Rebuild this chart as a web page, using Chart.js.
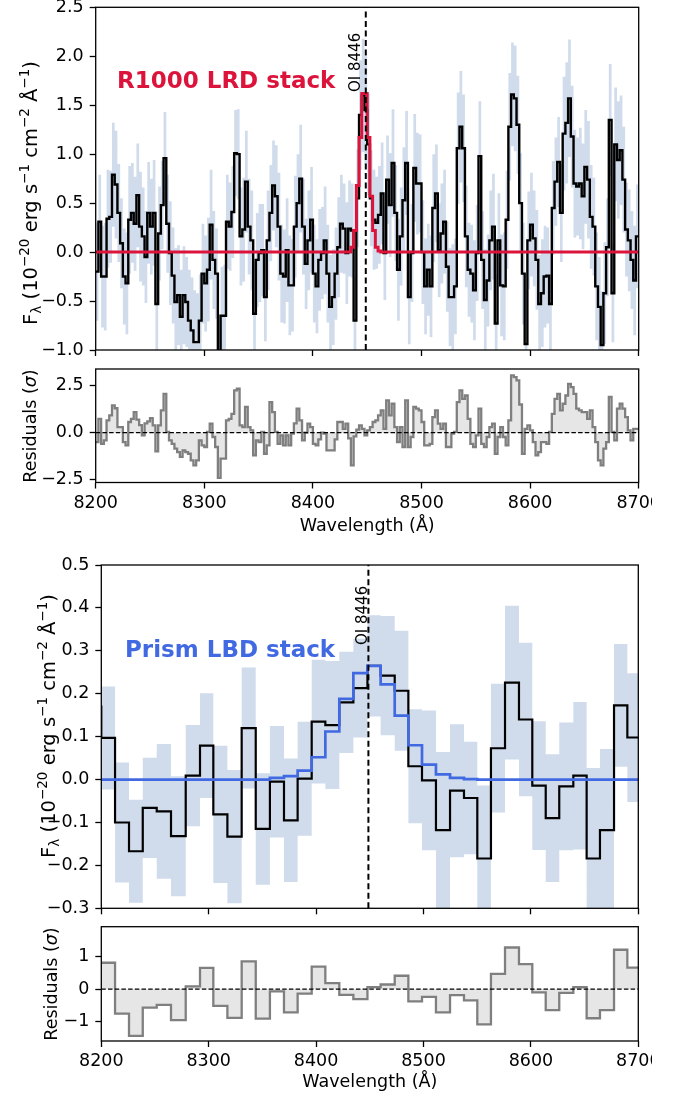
<!DOCTYPE html>
<html>
<head>
<meta charset="utf-8">
<script src="https://cdn.jsdelivr.net/npm/chart.js@4.4.1/dist/chart.umd.min.js"></script>
<style>
  body { margin: 0; background: #fff; }
  #wrap { position: relative; width: 686px; height: 1098px; overflow: hidden; background: #fff; }
  canvas { position: absolute; left: 0; }
  .ylab {
    position: absolute; white-space: nowrap;
    font-family: 'DejaVu Sans', sans-serif; font-size: 17.5px; color: #000;
    transform: translate(-50%, -50%) rotate(-90deg);
  }
  .ylab.big { font-size: 19.5px; }
  .ylab sup { font-size: 13.5px; vertical-align: 8px; line-height: 0; }
  .ylab sub { font-size: 13.5px; vertical-align: -4px; line-height: 0; }
</style>
</head>
<body>
<div id="wrap">
  <canvas id="cvA" width="686" height="360" style="top:0"></canvas>
  <canvas id="cvB" width="652" height="180" style="top:360px"></canvas>
  <canvas id="cvC" width="686" height="363" style="top:555px"></canvas>
  <canvas id="cvD" width="652" height="180" style="top:918px"></canvas>
  <div class="ylab big" style="left:30px;top:193px">F<sub>λ</sub> (10<sup>−20</sup> erg s<sup>−1</sup> cm<sup>−2</sup> Å<sup>−1</sup>)</div>
  <div class="ylab" style="left:30px;top:426px">Residuals (<i>σ</i>)</div>
  <div class="ylab big" style="left:48px;top:726px">F<sub>λ</sub> (10<sup>−20</sup> erg s<sup>−1</sup> cm<sup>−2</sup> Å<sup>−1</sup>)</div>
  <div class="ylab" style="left:51px;top:984px">Residuals (<i>σ</i>)</div>
</div>
<script>
// ---- R1000 LRD stack (2.5 A bins from 8200 A) ----
const r1000Start = 8200;
const r1000Bin = 2.5;
const r1000Flux = [
  -0.20, 0.31, -0.25, -0.25, 0.34, 0.36, 0.79, 0.69, 0.40, 0.09,
  -0.25, -0.32, 0.33, 0.40, 0.29, 0.58, 0.26, 0.16, -0.05, 0.40,
  0.26, 0.40, -0.53, 0.19, 0.48, 0.96, 0.29, -0.01, -0.24, -0.51,
  -0.44, -0.66, -0.44, -0.51, -0.70, -0.80, -0.92, -0.92, -0.70, -0.22,
  -0.32, -0.18, 0.28, -0.08, -0.22, -1.10, -0.65, -0.65, 0.31, 0.26,
  0.41, 1.01, 1.00, 0.16, 0.23, 0.72, 0.26, 0.12, -0.63, -0.08,
  -0.01, 0.02, -0.46, 0.12, 0.40, 0.68, 0.57, 0.26, -0.22, -0.25,
  0.02, -0.34, -0.34, 0.26, 0.50, 0.75, 0.26, -0.12, 0.12, 0.33,
  -0.22, -0.35, -0.08, -0.01, 0.12, -0.22, -0.56, -0.46, -0.22, 0.05,
  0.29, 0.24, -0.01, 0.24, 0.22, -0.70, 0.55, 1.40, 1.60, 1.45,
  1.10, 0.55, 0.33, 0.30, 0.38, 0.60, -0.01, 0.74, 0.48, 0.91,
  0.40, -0.18, 0.16, 0.53, 0.91, -0.46, -0.01, 0.86, 0.70, 0.70,
  0.00, -0.35, -0.18, -0.35, 0.45, 0.60, 0.02, 0.19, 0.31, -0.15,
  -0.46, -0.46, -0.35, 1.06, 1.28, 1.06, 0.16, -0.18, -0.22, -0.39,
  -0.01, 0.98, -0.08, -0.49, -0.29, 0.12, 0.26, -0.73, 0.12, -0.34,
  -0.35, 0.33, 1.28, 1.61, 1.57, 1.30, 0.50, -0.22, -0.94, 0.12,
  0.28, 0.14, -0.08, -0.53, -0.42, -0.25, -0.24, -0.53, 0.45, 0.72,
  0.92, 0.40, 1.21, 1.32, 1.57, 1.18, 0.70, 0.67, 0.70, 0.57,
  0.87, 0.74, 0.36, 0.26, -0.35, -0.56, -0.95, -0.42, 0.05, 1.35,
  -0.42, 1.10, 0.94, 1.04, 0.74, 0.23, 0.12, -0.08, -0.29, 0.16
];
const r1000Err = [
  0.50, 0.48, 0.52, 0.55, 0.50, 0.47, 0.53, 0.55, 0.50, 0.46,
  0.49, 0.52, 0.55, 0.51, 0.48, 0.53, 0.56, 0.50, 0.47, 0.52,
  0.49, 0.54, 0.52, 0.48, 0.45, 0.47, 0.50, 0.53, 0.49, 0.55,
  0.51, 0.48, 0.50, 0.46, 0.52, 0.54, 0.53, 0.50, 0.47, 0.51,
  0.49, 0.53, 0.56, 0.50, 0.46, 0.46, 0.50, 0.52, 0.48, 0.45,
  0.47, 0.44, 0.46, 0.50, 0.53, 0.52, 0.49, 0.51, 0.53, 0.48,
  0.50, 0.47, 0.45, 0.51, 0.49, 0.46, 0.52, 0.55, 0.50, 0.48,
  0.53, 0.51, 0.47, 0.52, 0.50, 0.55, 0.49, 0.46, 0.51, 0.54,
  0.50, 0.48, 0.52, 0.47, 0.55, 0.50, 0.53, 0.49, 0.47, 0.51,
  0.50, 0.46, 0.52, 0.49, 0.48, 0.45, 0.50, 0.56, 0.58, 0.55,
  0.52, 0.49, 0.51, 0.47, 0.50, 0.52, 0.48, 0.45, 0.53, 0.55,
  0.49, 0.52, 0.50, 0.54, 0.53, 0.48, 0.50, 0.55, 0.52, 0.50,
  0.53, 0.49, 0.47, 0.52, 0.55, 0.50, 0.48, 0.51, 0.53, 0.46,
  0.50, 0.54, 0.49, 0.57, 0.57, 0.55, 0.52, 0.48, 0.50, 0.51,
  0.49, 0.56, 0.50, 0.52, 0.47, 0.51, 0.54, 0.50, 0.48, 0.52,
  0.55, 0.50, 0.55, 0.53, 0.54, 0.50, 0.51, 0.52, 0.56, 0.50,
  0.53, 0.49, 0.51, 0.50, 0.55, 0.52, 0.49, 0.53, 0.48, 0.45,
  0.46, 0.50, 0.58, 0.62, 0.60, 0.52, 0.55, 0.50, 0.57, 0.54,
  0.58, 0.60, 0.53, 0.50, 0.55, 0.51, 0.55, 0.52, 0.50, 0.57,
  0.50, 0.58, 0.60, 0.56, 0.54, 0.48, 0.52, 0.50, 0.56, 0.53
];
const r1000Resid = [
  -0.50, 0.74, -0.59, -0.41, 0.66, 0.92, 1.45, 1.30, 0.30, 0.30,
  -0.50, -0.67, 0.57, 0.74, 1.10, 0.70, 0.40, -0.14, 0.50, 0.60,
  0.78, 0.39, -0.99, 0.39, 1.19, 2.07, 0.04, -0.41, -0.59, -0.85,
  -1.03, -1.29, -0.94, -1.03, -1.12, -1.47, -1.74, -1.47, -0.41, -0.67,
  -0.76, 0.04, 0.48, -0.23, -0.76, -2.40, -1.38, -1.38, 0.66, 0.74,
  1.00, 2.25, 2.34, 0.39, 0.30, 1.37, 0.30, 0.12, -1.20, -0.41,
  -0.50, 0.04, -1.12, -0.67, 1.63, 1.10, 0.04, -0.59, -0.14, -0.67,
  -0.14, -0.67, -0.05, 0.50, 1.28, 0.66, -0.41, 0.00, 0.48, 0.30,
  -0.59, -0.67, -0.35, 0.00, -0.05, -0.94, -0.94, -0.94, -0.35, 0.57,
  0.57, 0.20, 0.48, -0.30, -1.74, -0.20, 0.16, 0.39, 0.20, -0.14,
  0.12, 0.30, 0.57, 0.66, 0.92, 1.19, 0.20, 1.72, 0.92, 1.54,
  0.30, -0.50, 0.30, -0.76, 1.72, -0.76, -0.23, 1.37, 1.28, 1.19,
  0.57, -0.67, -0.67, -0.59, 0.83, 1.19, 0.48, 0.20, 0.48, -0.76,
  -0.76, -0.05, 0.04, 1.63, 2.25, 1.80, 1.98, 0.74, -0.59, -0.76,
  -0.14, 1.28, -0.59, -0.76, -0.23, 0.30, 0.48, -1.12, -0.23, 0.30,
  -0.23, -0.67, 0.66, 3.05, 2.96, 2.78, 1.50, -1.12, 0.20, 0.39,
  0.12, -0.50, -1.20, -1.03, -0.50, -0.50, -0.59, 0.04, 1.00, 1.80,
  2.07, 1.19, 1.54, 1.98, 2.60, 2.43, 2.07, 1.28, 1.19, 1.10,
  1.10, 0.74, 1.19, 0.30, -0.50, -1.47, -1.74, -0.85, -0.50, 1.90,
  0.04, -0.41, 1.28, 1.54, 1.28, 0.83, 0.12, -0.41, 0.20, 0.20
];
// gaussian model: zero continuum except these bins
const r1000ModelFirstBin = 92;
const r1000Model = [0, 0, 0.05, 0.22, 0.68, 1.17, 1.62, 1.62, 1.17, 0.57, 0.22, 0.05, 0.01, 0];

// ---- Prism LBD stack (bin edges) ----
const prismEdges = [
  8187.2, 8200.0, 8212.8, 8225.8, 8238.6, 8251.6, 8264.9, 8278.6, 8291.9, 8304.3,
  8317.4, 8330.7, 8343.8, 8357.0, 8370.1, 8382.8, 8395.9, 8408.6, 8421.6, 8434.7,
  8447.8, 8460.1, 8473.2, 8485.9, 8498.6, 8511.6, 8524.7, 8537.7, 8550.1, 8562.8,
  8575.9, 8588.9, 8601.3, 8613.8, 8626.4, 8639.5, 8651.9, 8664.3, 8677.4, 8689.8, 8702.2
];
const prismFlux = [
  0.170, 0.097, -0.100, -0.167, -0.066, -0.074, -0.132, 0.009, 0.079, -0.081,
  -0.133, 0.120, -0.115, -0.005, -0.095, 0.002, 0.135, 0.127, 0.180, 0.213,
  0.265, 0.242, 0.207, 0.031, -0.002, -0.118, -0.026, -0.043, -0.184, 0.073,
  0.226, 0.140, -0.014, -0.090, -0.016, 0.009, -0.184, -0.118, 0.173, 0.098
];
const prismErr = [
  0.120, 0.120, 0.140, 0.120, 0.117, 0.157, 0.140, 0.118, 0.122, 0.160,
  0.155, 0.141, 0.130, 0.130, 0.144, 0.133, 0.144, 0.149, 0.118, 0.115,
  0.118, 0.139, 0.140, 0.133, 0.163, 0.182, 0.155, 0.131, 0.170, 0.150,
  0.179, 0.179, 0.150, 0.149, 0.149, 0.172, 0.211, 0.189, 0.143, 0.150
];
const prismModel = [
  0, 0, 0, 0, 0, 0, 0, 0, 0, 0,
  0, 0, 0, 0.004, 0.008, 0.021, 0.052, 0.112, 0.188, 0.248,
  0.265, 0.222, 0.149, 0.080, 0.035, 0.012, 0.004, 0.001, 0, 0,
  0, 0, 0, 0, 0, 0, 0, 0, 0, 0
];
// residuals start at the 8200 edge
const prismResid = [
  0.81, -0.76, -1.44, -0.57, -0.49, -0.96, 0.08, 0.65, -0.52, -0.89,
  0.85, -0.91, -0.07, -0.72, -0.14, 0.69, 0.18, -0.18, -0.31, 0.06,
  0.14, 0.41, -0.38, -0.24, -0.72, -0.19, -0.35, -1.09, 0.47, 1.28,
  0.77, -0.10, -0.65, -0.12, 0.06, -0.90, -0.65, 1.21, 0.66
];

// ---- axes ----
const waveTicks = [8200, 8300, 8400, 8500, 8600, 8700];
const r1000FluxTicks = [-1.0, -0.5, 0.0, 0.5, 1.0, 1.5, 2.0, 2.5];
const r1000ResidTicks = [-2.5, 0.0, 2.5];
const prismFluxTicks = [-0.3, -0.2, -0.1, 0.0, 0.1, 0.2, 0.3, 0.4, 0.5];
const prismResidTicks = [-1, 0, 1];
const r1000FluxRange = [-1.0, 2.5];
const r1000ResidRange = [-2.65, 3.39];
const prismFluxRange = [-0.3, 0.5];
const prismResidRange = [-1.6, 1.92];
const oiWave = 8448.7;

const FONT = "'DejaVu Sans', sans-serif";
const tickFont = { family: FONT, size: 17.5 };
const minus = s => s.replace('-', '\u2212');

function stepPoints(edges, vals) {
  const pts = vals.map((v, i) => ({ x: edges[i], y: v }));
  pts.push({ x: edges[vals.length], y: vals[vals.length - 1] });
  return pts;
}

const r1000Edges = [];
for (let i = 0; i <= r1000Flux.length; i++) r1000Edges.push(r1000Start + i * r1000Bin);
const r1000ModelFull = r1000Flux.map((_, i) => {
  const k = i - r1000ModelFirstBin;
  return k >= 0 && k < r1000Model.length ? r1000Model[k] : 0;
});

function stepLine(data, color, width, order, extra) {
  return Object.assign({
    data, borderColor: color, borderWidth: width, pointRadius: 0,
    stepped: 'before', fill: false, order, tension: 0
  }, extra || {});
}

function xAxis(showLabels, height, withTitle, titlePad) {
  return {
    type: 'linear', min: 8200, max: 8700,
    afterBuildTicks: s => { s.ticks = waveTicks.map(v => ({ value: v })); },
    afterFit: s => { s.height = height; s.paddingLeft = 0; s.paddingRight = 0; },
    ticks: { display: showLabels, padding: 4, color: '#000', font: tickFont,
             autoSkip: false, maxRotation: 0, callback: v => String(v) },
    grid: { display: true, drawOnChartArea: false, drawTicks: true,
            tickLength: 6, tickWidth: 1.3, tickColor: '#000' },
    border: { display: false },
    title: withTitle
      ? { display: true, text: 'Wavelength (Å)', color: '#000', font: tickFont,
          padding: { top: 0, bottom: titlePad } }
      : { display: false }
  };
}

function yAxis(range, ticks, width, fmt) {
  return {
    type: 'linear', min: range[0], max: range[1],
    afterBuildTicks: s => { s.ticks = ticks.map(v => ({ value: v })); },
    afterFit: s => { s.width = width; s.paddingTop = 0; s.paddingBottom = 0; },
    ticks: { padding: 6, color: '#000', font: tickFont, callback: fmt },
    grid: { display: true, drawOnChartArea: false, drawTicks: true,
            tickLength: 6, tickWidth: 1.3, tickColor: '#000' },
    border: { display: false }
  };
}

// frame around the plot plus free text inside it
const framePlugin = {
  id: 'frame',
  afterDraw(chart, args, opts) {
    const { ctx, chartArea: a } = chart;
    ctx.save();
    (opts.texts || []).forEach(t => {
      ctx.save();
      ctx.fillStyle = t.color;
      ctx.font = t.font;
      ctx.textAlign = 'left';
      ctx.textBaseline = 'alphabetic';
      const x = t.wave !== undefined ? chart.scales.x.getPixelForValue(t.wave) + t.dx : a.left + t.dx;
      ctx.translate(x, a.top + t.dy);
      if (t.rotate) ctx.rotate(-Math.PI / 2);
      ctx.fillText(t.text, 0, 0);
      ctx.restore();
    });
    ctx.strokeStyle = '#000';
    ctx.lineWidth = 1.3;
    ctx.strokeRect(a.left, a.top, a.right - a.left, a.bottom - a.top);
    ctx.restore();
  }
};

function makeChart(id, datasets, scales, pad, texts) {
  return new Chart(document.getElementById(id), {
    type: 'line',
    data: { datasets },
    options: {
      responsive: false, animation: false, devicePixelRatio: 1,
      layout: { autoPadding: false, padding: pad },
      plugins: { legend: { display: false }, tooltip: { enabled: false }, frame: { texts: texts || [] } },
      scales
    },
    plugins: [framePlugin]
  });
}

const bandColor = 'rgba(176,196,222,0.6)';
const residLine = '#7f7f7f';
const residFill = 'rgba(200,200,200,0.45)';

// Panel A: R1000 spectrum
makeChart('cvA', [
  stepLine(stepPoints(r1000Edges, r1000Flux.map((v, i) => v + r1000Err[i])), 'rgba(0,0,0,0)', 0, 11),
  stepLine(stepPoints(r1000Edges, r1000Flux.map((v, i) => v - r1000Err[i])), 'rgba(0,0,0,0)', 0, 10,
           { fill: '-1', backgroundColor: bandColor }),
  stepLine(stepPoints(r1000Edges, r1000Flux), '#000', 2.4, 3),
  stepLine(stepPoints(r1000Edges, r1000ModelFull), '#dc143c', 3, 2),
  { data: [{ x: oiWave, y: r1000FluxRange[0] }, { x: oiWave, y: r1000FluxRange[1] }],
    borderColor: '#000', borderWidth: 2, borderDash: [6, 3.5], pointRadius: 0, fill: false, order: 1 }
], {
  x: xAxis(false, 10, false, 0),
  y: yAxis(r1000FluxRange, r1000FluxTicks, 95.7, v => minus(v.toFixed(1)))
}, { left: 0, top: 7.3, right: 47.3, bottom: 0 }, [
  { text: 'R1000 LRD stack', color: '#dc143c', font: "bold 23px " + FONT, dx: 21.3, dy: 80.7 },
  { text: 'OI 8446', color: '#000', font: "15px " + FONT, wave: oiWave, dx: -5.5, dy: 84.7, rotate: true }
]);

// Panel B: R1000 residuals
makeChart('cvB', [
  stepLine(stepPoints(r1000Edges, r1000Resid), residLine, 2.3, 3,
           { fill: 'origin', backgroundColor: residFill }),
  { data: [{ x: 8200, y: 0 }, { x: 8700, y: 0 }], borderColor: '#000', borderWidth: 1.3,
    borderDash: [4.5, 2.2], pointRadius: 0, fill: false, order: 1 }
], {
  x: xAxis(true, 57.5, true, 3.5),
  y: yAxis(r1000ResidRange, r1000ResidTicks, 95.7, v => minus(v.toFixed(1)))
}, { left: 0, top: 9, right: 13.3, bottom: 0 });

// Panel C: Prism spectrum
makeChart('cvC', [
  stepLine(stepPoints(prismEdges, prismFlux.map((v, i) => v + prismErr[i])), 'rgba(0,0,0,0)', 0, 11),
  stepLine(stepPoints(prismEdges, prismFlux.map((v, i) => v - prismErr[i])), 'rgba(0,0,0,0)', 0, 10,
           { fill: '-1', backgroundColor: bandColor }),
  stepLine(stepPoints(prismEdges, prismFlux), '#000', 2.2, 3),
  stepLine(stepPoints(prismEdges, prismModel), '#4169e1', 2.7, 2),
  { data: [{ x: oiWave, y: prismFluxRange[0] }, { x: oiWave, y: prismFluxRange[1] }],
    borderColor: '#000', borderWidth: 2, borderDash: [6, 3.5], pointRadius: 0, fill: false, order: 1 }
], {
  x: xAxis(false, 9.7, false, 0),
  y: yAxis(prismFluxRange, prismFluxTicks, 101.3, v => minus(v.toFixed(1)))
}, { left: 0, top: 10, right: 47.7, bottom: 0 }, [
  { text: 'Prism LBD stack', color: '#4169e1', font: "bold 23px " + FONT, dx: 23.7, dy: 92 },
  { text: 'OI 8446', color: '#000', font: "15px " + FONT, wave: oiWave, dx: -1.5, dy: 80, rotate: true }
]);

// Panel D: Prism residuals
makeChart('cvD', [
  stepLine(stepPoints(prismEdges.slice(1), prismResid), residLine, 2.3, 3,
           { fill: 'origin', backgroundColor: residFill }),
  { data: [{ x: 8200, y: 0 }, { x: 8700, y: 0 }], borderColor: '#000', borderWidth: 1.3,
    borderDash: [4.5, 2.2], pointRadius: 0, fill: false, order: 1 }
], {
  x: xAxis(true, 57, true, 5),
  y: yAxis(prismResidRange, prismResidTicks, 101.3, v => minus(String(v)))
}, { left: 0, top: 8.7, right: 13.7, bottom: 0 });
</script>
</body>
</html>
